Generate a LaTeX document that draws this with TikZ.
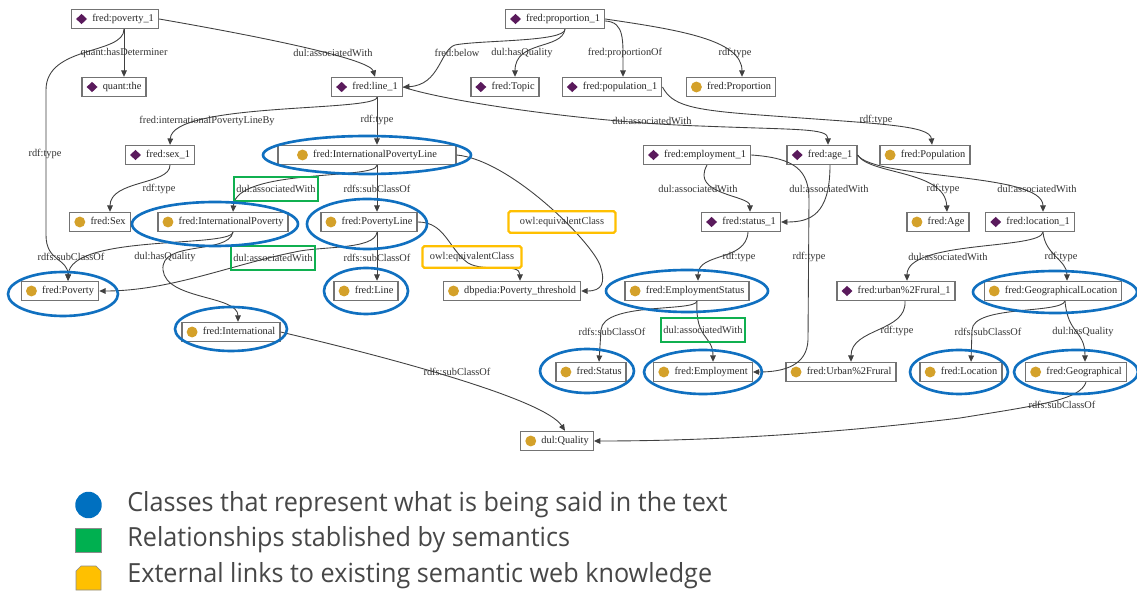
\documentclass[tikz,border=0pt]{standalone}
\usepackage{fontspec}
\setmainfont{Liberation Serif}
\newfontfamily\legendfont{Open Sans}[FakeStretch=0.955]
\usetikzlibrary{calc,arrows.meta}

\definecolor{dmdpurple}{HTML}{5A1A5C}
\definecolor{goldcol}{HTML}{D4A12A}
\definecolor{hlblue}{HTML}{1070C0}
\definecolor{semgreen}{HTML}{10B050}
\definecolor{extorange}{HTML}{FFC000}
\definecolor{legblue}{HTML}{0070C0}
\definecolor{leggreen}{HTML}{00B050}

% little icons in front of the names
\newcommand*\dmd{\tikz[baseline=-0.55ex]\fill[dmdpurple] (0,2.9pt) -- (3.1pt,0) -- (0,-2.9pt) -- (-3.1pt,0) -- cycle;}
\newcommand*\gld{\tikz[baseline=-0.55ex]\fill[goldcol] (0,0) circle (3.1pt);}
\newcommand*\ins[1]{\dmd\hspace{3pt}#1\hspace{7pt}}
\newcommand*\cls[1]{\gld\hspace{3pt}#1\hspace{7pt}}

\tikzset{
  box/.style={draw=black!55, line width=0.8pt, fill=white, inner xsep=2.6pt, inner ysep=0pt,
    minimum height=0.38cm, font=\fontsize{5.9}{7}\selectfont, text=black!85},
  lbl/.style={font=\fontsize{5.9}{7}\selectfont, text=black!80, inner sep=1pt},
  edge/.style={draw=black!75, line width=0.5pt, -{Triangle[length=3.6pt,width=3.2pt]}},
  hl/.style={draw=hlblue, line width=1.5pt},
  grn/.style={lbl, draw=semgreen, line width=1.3pt, minimum width=1.68cm, minimum height=0.47cm},
  org/.style={lbl, draw=extorange, line width=1.3pt, rounded corners=1pt, minimum height=0.43cm},
  legtext/.style={anchor=west, inner sep=0pt, text=black!72, font=\legendfont\fontsize{15}{18}\selectfont}
}

\begin{document}
\begin{tikzpicture}[x=0.02cm, y=-0.02cm]
\path[fill=white, use as bounding box] (0,0) rectangle (1137,591);

% instances
\node[box] (p1) at (115,19) {\ins{fred:poverty\_1}};
\node[box] (prop1) at (555,19) {\ins{fred:proportion\_1}};
\node[box] (the) at (114,87) {\ins{quant:the}};
\node[box] (line1) at (367,87) {\ins{fred:line\_1}};
\node[box] (topic) at (505,87) {\ins{fred:Topic}};
\node[box] (pop1) at (612,87) {\ins{fred:population\_1}};
\node[box] (sex1) at (160,155) {\ins{fred:sex\_1}};
\node[box] (emp1) at (697,155) {\ins{fred:employment\_1}};
\node[box] (age1) at (822,155) {\ins{fred:age\_1}};
\node[box] (stat1) at (741,222) {\ins{fred:status\_1}};
\node[box] (loc1) at (1030,222) {\ins{fred:location\_1}};
\node[box] (urb1) at (896,291) {\ins{fred:urban\%2Frural\_1}};

% classes
\node[box] (proportion) at (731,87) {\cls{fred:Proportion}};
\node[box, minimum width=3.56cm] (ipl) at (367,155) {\cls{fred:InternationalPovertyLine}};
\node[box] (population) at (925,155) {\cls{fred:Population}};
\node[box] (sex) at (100,222) {\cls{fred:Sex}};
\node[box] (ip) at (223,222) {\cls{fred:InternationalPoverty}};
\node[box] (pl) at (369,222) {\cls{fred:PovertyLine}};
\node[box] (age) at (938,222) {\cls{fred:Age}};
\node[box] (poverty) at (60,291) {\cls{fred:Poverty}};
\node[box] (linec) at (366,291) {\cls{fred:Line}};
\node[box] (thresh) at (512,291) {\cls{dbpedia:Poverty\_threshold}};
\node[box] (empstat) at (687,291) {\cls{fred:EmploymentStatus}};
\node[box] (geoloc) at (1053,291) {\cls{fred:GeographicalLocation}};
\node[box] (intl) at (231,332) {\cls{fred:International}};
\node[box] (status) at (591,372) {\cls{fred:Status}};
\node[box] (employment) at (703,372) {\cls{fred:Employment}};
\node[box] (urban) at (841,372) {\cls{fred:Urban\%2Frural}};
\node[box] (location) at (961,372) {\cls{fred:Location}};
\node[box] (geo) at (1076,372) {\cls{fred:Geographical}};
\node[box] (quality) at (557,441) {\cls{dul:Quality}};

% edges
\draw[edge] ($(p1.south)+(9,0)$) -- ($(the.north)+(10,0)$);
\draw[edge] (p1.east) .. controls (280,40) and (370,60) .. ($(line1.north)+(8,0)$);
\draw[edge] ($(p1.south)+(9,0)$) .. controls (124,55) and (46,45) .. (46,90) -- (46,235)
  .. controls (46,262) and (68,258) .. ($(poverty.north)+(8,0)$);
\draw[edge] ($(prop1.south)+(10,0)$) .. controls (565,42) and (480,40) .. (455,45)
  .. controls (440,50) and (440,85) .. (line1.east);
\draw[edge] ($(prop1.south)+(10,0)$) .. controls (562,50) and (515,40) .. ($(topic.north)+(10,0)$);
\draw[edge] ($(prop1.east)+(0,2)$) .. controls (625,22) and (623,40) .. ($(pop1.north)+(11,0)$);
\draw[edge] (prop1.east) .. controls (680,30) and (742,40) .. ($(proportion.north)+(11,0)$);
\draw[edge] ($(line1.south)+(10,0)$) .. controls (377,112) and (172,102) .. ($(sex1.north)+(10,0)$);
\draw[edge] ($(line1.south)+(10,0)$) -- ($(ipl.north)+(10,0)$);
\draw[edge] (line1.east) .. controls (440,100) and (580,122) .. (700,126)
  .. controls (800,130) and (828,128) .. ($(age1.north)+(6,0)$);
\draw[edge] (pop1.east) .. controls (672,105) and (690,110) .. (760,115)
  .. controls (880,124) and (930,125) .. ($(population.north)+(7,0)$);
\draw[edge] ($(sex1.south)+(10,0)$) .. controls (170,185) and (110,180) .. ($(sex.north)+(10,0)$);
\draw[edge] ($(ipl.south)+(10,0)$) .. controls (377,180) and (236,168) .. ($(ip.north)+(10,0)$);
\draw[edge] ($(ipl.south)+(10,0)$) -- ($(pl.north)+(8,0)$);
\draw[edge] (ipl.east) .. controls (510,160) and (590,240) .. (600,265)
  .. controls (606,283) and (602,291) .. (thresh.east);
\draw[edge] ($(emp1.south)+(10,0)$) .. controls (690,195) and (750,195) .. ($(stat1.north)+(9,0)$);
\draw[edge] (emp1.east) .. controls (795,158) and (809,170) .. (809,200) -- (808,340)
  .. controls (807,365) and (785,372) .. (employment.east);
\draw[edge] ($(age1.south)+(8,0)$) .. controls (830,215) and (810,222) .. (stat1.east);
\draw[edge] (age1.east) .. controls (870,175) and (945,170) .. ($(age.north)+(9,0)$);
\draw[edge] (age1.east) .. controls (875,180) and (1043,172) .. ($(loc1.north)+(13,0)$);
\draw[edge] ($(ip.south)+(10,0)$) .. controls (230,248) and (70,234) .. ($(poverty.north)+(8,0)$);
\draw[edge] ($(ip.south)+(10,0)$) .. controls (228,255) and (160,240) .. (163,270)
  .. controls (166,300) and (238,295) .. ($(intl.north)+(7,0)$);
\draw[edge] ($(pl.south)+(8,0)$) .. controls (375,250) and (320,246) .. (295,252)
  .. controls (230,265) and (170,291) .. (poverty.east);
\draw[edge] ($(pl.south)+(8,0)$) -- ($(linec.north)+(11,0)$);
\draw[edge] (pl.east) .. controls (445,222) and (448,248) .. (468,263)
  .. controls (485,273) and (520,262) .. ($(thresh.north)+(8,0)$);
\draw[edge] ($(stat1.south)+(7,0)$) .. controls (746,262) and (698,252) .. ($(empstat.north)+(11,0)$);
\draw[edge] ($(loc1.south)+(13,0)$) .. controls (1040,250) and (907,240) .. ($(urb1.north)+(11,0)$);
\draw[edge] ($(loc1.south)+(13,0)$) .. controls (1045,255) and (1067,260) .. ($(geoloc.north)+(14,0)$);
\draw[edge] ($(empstat.south)+(10,0)$) .. controls (695,312) and (603,302) .. (601,330)
  -- ($(status.north)+(8,0)$);
\draw[edge] ($(empstat.south)+(10,0)$) .. controls (695,340) and (713,335) .. ($(employment.north)+(10,0)$);
\draw[edge] ($(urb1.south)+(9,0)$) .. controls (907,332) and (851,328) .. ($(urban.north)+(10,0)$);
\draw[edge] ($(geoloc.south)+(12,0)$) .. controls (1060,314) and (973,305) .. (972,330)
  -- ($(location.north)+(10,0)$);
\draw[edge] ($(geoloc.south)+(12,0)$) .. controls (1068,335) and (1085,330) .. ($(geo.north)+(9,0)$);
\draw[edge] (intl.east) .. controls (400,360) and (545,400) .. ($(quality.north)+(8,0)$);
\draw[edge] ($(geo.south)+(10,0)$) .. controls (1080,400) and (1040,405) .. (960,418)
  .. controls (820,435) and (700,441) .. (quality.east);

% edge labels
\node[lbl] (lDet) at (124,53) {quant:hasDeterminer};
\node[lbl] (lAssoc1) at (333,53) {dul:associatedWith};
\node[lbl] (lBelow) at (457,53) {fred:below};
\node[lbl] (lQual1) at (522,53) {dul:hasQuality};
\node[lbl] (lPropOf) at (625,53) {fred:proportionOf};
\node[lbl] (lType1) at (735,53) {rdf:type};
\node[lbl] (lLineBy) at (207,121) {fred:internationalPovertyLineBy};
\node[lbl] (lType2) at (377,120) {rdf:type};
\node[lbl] (lAssoc2) at (652,121) {dul:associatedWith};
\node[lbl] (lType3) at (876,120) {rdf:type};
\node[lbl] (lType4) at (45,154) {rdf:type};
\node[lbl] (lType5) at (159,189) {rdf:type};
\node[lbl] (lSub1) at (377,189) {rdfs:subClassOf};
\node[lbl] (lAssoc3) at (698,189) {dul:associatedWith};
\node[lbl] (lAssoc4) at (829,189) {dul:associatedWith};
\node[lbl] (lType6) at (943,189) {rdf:type};
\node[lbl] (lAssoc5) at (1037,189) {dul:associatedWith};
\node[lbl] (lSub2) at (71,257) {rdfs:subClassOf};
\node[lbl] (lQual2) at (165,257) {dul:hasQuality};
\node[lbl] (lSub3) at (377,258) {rdfs:subClassOf};
\node[lbl] (lType7) at (739,257) {rdf:type};
\node[lbl] (lType8) at (809,257) {rdf:type};
\node[lbl] (lAssoc6) at (948,257) {dul:associatedWith};
\node[lbl] (lType9) at (1061,257) {rdf:type};
\node[lbl] (lSub4) at (612,332) {rdfs:subClassOf};
\node[lbl] (lType10) at (897,331) {rdf:type};
\node[lbl] (lSub5) at (988,332) {rdfs:subClassOf};
\node[lbl] (lQual3) at (1083,332) {dul:hasQuality};
\node[lbl] (lSub6) at (457,372) {rdfs:subClassOf};
\node[lbl] (lSub7) at (1062,405) {rdfs:subClassOf};

% semantic and external marks
\node[grn] (gAssoc1) at (276,189) {dul:associatedWith};
\node[grn] (gAssoc2) at (273,258) {dul:associatedWith};
\node[grn] (gAssoc3) at (703,330) {dul:associatedWith};
\node[org, minimum width=2.14cm] (oEq1) at (562,222) {owl:equivalentClass};
\node[org, minimum width=1.98cm] (oEq2) at (472,257) {owl:equivalentClass};

% blue rings
\draw[hl] (ipl) ellipse (104 and 19);
\draw[hl] ($(ip)+(-8,2)$) ellipse (83 and 22);
\draw[hl] ($(pl)+(-2,2)$) ellipse (60 and 25);
\draw[hl] ($(poverty)+(3,3)$) ellipse (55 and 22);
\draw[hl] (linec) ellipse (42 and 23);
\draw[hl] (empstat) ellipse (81 and 21);
\draw[hl] ($(geoloc)+(2,1)$) ellipse (82 and 21);
\draw[hl] ($(intl)+(0,-3)$) ellipse (56 and 22);
\draw[hl] ($(status)+(-4,-1)$) ellipse (47 and 22);
\draw[hl] (employment) ellipse (59 and 22);
\draw[hl] ($(location)+(-2,0)$) ellipse (49 and 22);
\draw[hl] (geo) ellipse (62 and 22);

% legend
\node[circle, fill=legblue, inner sep=0pt, minimum size=0.53cm] (kClass) at (88.5,505) {};
\node[fill=leggreen, draw=black!45, line width=0.4pt, inner sep=0pt, minimum width=0.52cm, minimum height=0.48cm] (kRel) at (88.5,540) {};
\path[fill=extorange, draw=black!45, line width=0.4pt] (76,590) -- (76,571) -- (81,566) -- (96,566) -- (101,571) -- (101,590) -- cycle;
\coordinate (kExt) at (88.5,578);
\node[legtext] (tClass) at (127,505) {Classes that represent what is being said in the text};
\node[legtext] (tRel) at (127,540) {Relationships stablished by semantics};
\node[legtext] (tExt) at (127,576) {External links to existing semantic web knowledge};
\end{tikzpicture}
\end{document}
